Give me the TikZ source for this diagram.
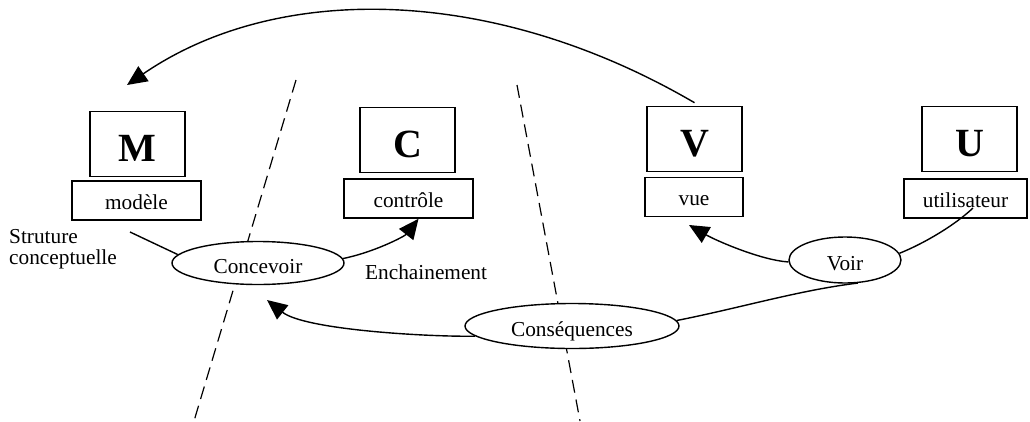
\documentclass[tikz,border=0pt]{standalone}
\usepackage{fontspec}
\setmainfont{Liberation Serif}
\usetikzlibrary{shapes.geometric,arrows.meta}
\begin{document}
\begin{tikzpicture}[x=1pt,y=-1pt,
  letterbox/.style={draw,line width=1.6pt,minimum width=95pt,minimum height=65pt,inner sep=0pt,text height=35pt,text depth=0pt,font=\fontsize{40}{40}\selectfont\bfseries},
  namebox/.style={draw,line width=1.6pt,minimum height=39pt,inner sep=0pt,text height=17pt,text depth=0pt,font=\fontsize{21.3}{21.3}\selectfont},
  oval/.style={ellipse,draw,fill=white,line width=1.4pt,inner sep=0pt,text height=21pt,text depth=0pt,font=\fontsize{21.3}{21.3}\selectfont},
  lbl/.style={inner sep=0pt,font=\fontsize{21.3}{21.3}\selectfont},
  conn/.style={line width=1.4pt},
  tipped/.style={-{Triangle[length=20pt,width=18pt]}},
  sep/.style={line width=1.2pt,dash pattern=on 13pt off 7pt}]
\useasboundingbox (0,0) rectangle (1030,421);
% separators
\coordinate (d1a) at (296,80);
\coordinate (d1b) at (194,421);
\coordinate (d2a) at (517,85);
\coordinate (d2b) at (580,421);
\draw[sep] (d1a) -- (d1b);
\draw[sep] (d2a) -- (d2b);
% boxes
\node[letterbox] (M) at (137.5,144) {M};
\node[namebox,minimum width=129pt] (mod) at (136.5,200.5) {modèle};
\node[letterbox] (C) at (407.5,140) {C};
\node[namebox,minimum width=129pt] (ctl) at (408.5,198.5) {contrôle};
\node[letterbox] (V) at (694.5,139) {V};
\node[namebox,minimum width=98pt] (vue) at (694,197) {vue};
\node[letterbox] (U) at (969.5,139) {U};
\node[namebox,minimum width=123pt] (usr) at (965.5,198.5) {utilisateur};
% ellipses
\node[oval,minimum width=172pt,minimum height=43pt] (conc) at (258,263) {Concevoir};
\node[oval,minimum width=112pt,minimum height=46pt] (voir) at (845,260) {Voir};
\node[oval,minimum width=214pt,minimum height=45pt] (cons) at (572,326) {Conséquences};
% labels
\node[lbl,anchor=base west] (st) at (9,243) {Struture};
\node[lbl,anchor=base west] (cp) at (9,264) {conceptuelle};
\node[lbl,anchor=base west] (ench) at (365,279) {Enchainement};
% free ends
\coordinate (a0) at (130,232);
\coordinate (vt) at (689,225);
\coordinate (u0) at (973,208);
\coordinate (ct) at (267,300);
\coordinate (mt) at (127,85);
% connectors
\draw[conn] (a0) -- (conc.174);
\draw[conn,tipped] (conc.3) .. controls (375,252) and (405,236) .. ([xshift=10pt]ctl.south);
\draw[conn,tipped] (voir.182) .. controls (760,260) and (715,240) .. (vt);
\draw[conn] (voir.7) .. controls (925,243) and (955,225) .. (u0);
\draw[conn] (cons.3) .. controls (740,308) and (800,290) .. (voir.-61);
\draw[conn,tipped] (cons.186) .. controls (430,337) and (305,330) .. (ct);
\draw[conn,tipped] ([yshift=3pt]V.north) .. controls (493,-15) and (277,-18) .. (mt);
\end{tikzpicture}
\end{document}
